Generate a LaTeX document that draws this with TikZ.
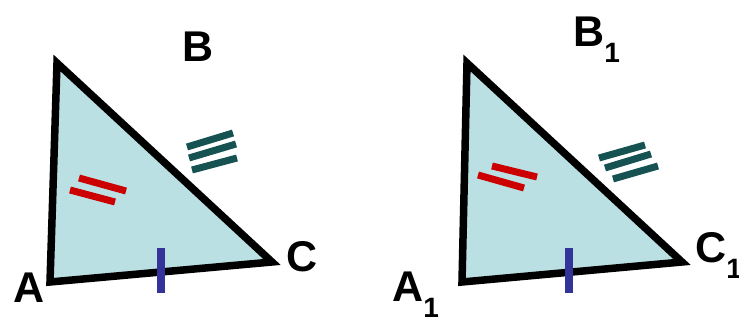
\documentclass[tikz,border=0pt]{standalone}
\usepackage{fontspec}
\setmainfont{Liberation Sans}
\usepackage{xcolor}
\usetikzlibrary{positioning}
\definecolor{trifill}{RGB}{187,224,227}
\definecolor{markred}{RGB}{204,0,0}
\definecolor{markteal}{RGB}{23,82,82}
\definecolor{markblue}{RGB}{51,51,153}
\newcommand{\lsub}[1]{\raisebox{-16pt}{\fontsize{28}{30}\selectfont\bfseries #1}}

\begin{document}
\begin{tikzpicture}[x=1pt, y=-1pt,
    tri/.style={draw=black, line width=7.5pt, fill=trifill, line join=miter, miter limit=10},
    lbl/.style={font=\fontsize{43}{48}\selectfont\bfseries, inner sep=0pt, anchor=base west},
    redmark/.style={draw=markred, line width=7pt},
    tealmark/.style={draw=markteal, line width=7pt},
    bluemark/.style={draw=markblue, line width=8pt}]
\useasboundingbox (0,0) rectangle (739,320);

% Triangle ABC
\coordinate (A) at (50,282);
\coordinate (B) at (57,63);
\coordinate (C) at (272,262);
\draw [tri] (A) -- (B) -- (C) -- cycle;

\node (lA) [lbl] at (13,303) {A};
\node (lB) [lbl] at (182,62) {B};
\node (lC) [lbl] at (286,272) {C};

% Marks on ABC
\draw [redmark] (79,178) -- (126,191);
\draw [redmark] (70,190) -- (115,202);
\draw [tealmark] (187,147) -- (233,133);
\draw [tealmark] (189,158) -- (236,144);
\draw [tealmark] (192,170) -- (237,158);
\draw [bluemark] (161,248) -- (161,293);

% Triangle A1B1C1
\coordinate (A1) at (462,282);
\coordinate (B1) at (467,63);
\coordinate (C1) at (682,262);
\draw [tri] (A1) -- (B1) -- (C1) -- cycle;

\node (lA1) [lbl] at (392,302) {A\lsub{1}};
\node (lB1) [lbl] at (573,47) {B\lsub{1}};
\node (lC1) [lbl] at (695,263) {C\lsub{1}};

% Marks on A1B1C1
\draw [redmark] (492,166) -- (537,177);
\draw [redmark] (478,175) -- (524,188);
\draw [tealmark] (599,158) -- (645,145);
\draw [tealmark] (605,168) -- (651,154);
\draw [tealmark] (613,179) -- (658,166);
\draw [bluemark] (569,248) -- (569,293);
\end{tikzpicture}
\end{document}
